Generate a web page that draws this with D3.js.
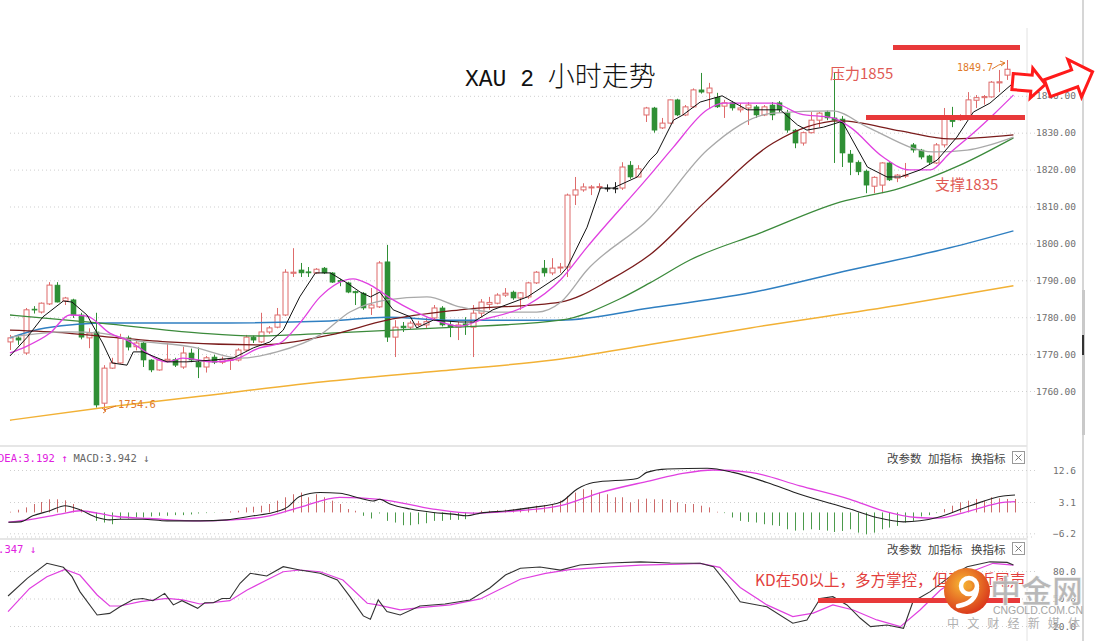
<!DOCTYPE html>
<html><head><meta charset="utf-8">
<script src="https://cdn.jsdelivr.net/npm/d3@7"></script>
<style>
html,body{margin:0;padding:0;background:#fff;overflow:hidden;}
svg{display:block;}
</style></head><body>
<svg id="c" width="1100" height="641"></svg>
<script>
// ---------- DATA ----------
const opens=[1773.3,1774.4,1770.3,1782.2,1781.4,1783.6,1788.7,1784.4,1784.7,1780.6,
1774.4,1776.0,1756.7,1766.2,1767.6,1774.4,1772.0,1773.0,1768.4,1765.7,
1768.2,1768.5,1766.5,1770.3,1767.8,1766.5,1769.2,1767.8,1768.3,1768.4,
1771.1,1774.6,1773.3,1776.0,1777.3,1780.6,1791.9,1792.8,1792.3,1792.0,
1793.3,1792.0,1790.0,1789.3,1787.0,1786.5,1782.5,1782.8,1795.0,1774.6,
1777.6,1777.3,1778.0,1777.9,1779.8,1782.5,1777.9,1777.3,1778.2,1777.3,
1781.1,1783.5,1783.8,1786.0,1786.8,1785.2,1785.5,1789.3,1793.3,1792.0,
1793.4,1793.6,1813.1,1814.5,1815.2,1815.3,1815.0,1815.0,1815.0,1821.2,
1818.0,1834.8,1836.7,1831.3,1832.6,1838.9,1834.8,1837.0,1841.6,1840.8,
1839.6,1837.2,1838.1,1836.2,1836.7,1837.0,1834.8,1837.5,1838.1,1835.3,
1830.7,1827.2,1830.0,1833.4,1835.6,1834.0,1833.7,1824.2,1822.0,1819.6,
1815.5,1815.8,1821.8,1817.7,1818.3,1826.7,1825.3,1823.7,1821.8,1826.7,
1834.0,1833.5,1834.3,1838.8,1839.5,1839.7,1843.5,1845.6];
const highs=[1775.2,1775.0,1782.5,1783.0,1784.0,1789.5,1789.5,1785.5,1785.0,1781.2,
1777.0,1781.2,1767.0,1769.0,1775.5,1775.0,1774.0,1773.5,1768.6,1768.6,
1773.0,1769.0,1772.0,1771.5,1771.8,1769.5,1769.8,1769.3,1769.0,1771.6,
1775.2,1775.0,1781.2,1777.6,1782.5,1793.0,1798.7,1794.7,1793.6,1793.3,
1793.6,1792.2,1790.4,1789.6,1787.2,1786.8,1787.9,1795.2,1799.6,1779.2,
1778.7,1779.0,1779.0,1779.8,1783.3,1783.0,1779.2,1778.7,1780.0,1783.3,
1784.9,1785.5,1786.5,1787.9,1787.2,1786.8,1789.6,1792.5,1795.5,1796.0,
1794.7,1813.5,1818.0,1816.3,1815.8,1816.3,1816.0,1816.6,1822.0,1822.3,
1821.2,1837.0,1837.0,1834.0,1839.0,1839.2,1837.5,1842.0,1846.2,1843.5,
1840.8,1838.9,1838.6,1838.0,1838.3,1837.5,1837.5,1838.3,1838.6,1836.2,
1831.0,1830.3,1835.6,1835.6,1836.0,1846.2,1834.5,1825.3,1822.5,1820.0,
1818.2,1822.0,1822.0,1818.8,1821.8,1827.2,1825.6,1824.0,1827.2,1836.7,
1837.0,1835.0,1841.0,1840.2,1840.2,1844.0,1847.0,1849.7];
const lows=[1771.1,1772.5,1769.8,1781.0,1781.0,1783.3,1784.0,1783.3,1779.8,1774.0,
1771.6,1755.5,1754.6,1766.0,1767.4,1771.0,1771.0,1766.5,1765.1,1765.5,
1767.8,1766.5,1766.0,1767.8,1763.5,1765.0,1767.3,1767.3,1765.7,1768.0,
1770.8,1773.0,1773.0,1775.5,1777.0,1780.3,1790.9,1790.9,1790.9,1791.7,
1791.7,1789.3,1788.4,1786.5,1783.3,1782.0,1780.6,1782.5,1773.3,1769.2,
1776.0,1776.8,1777.5,1777.1,1779.2,1777.5,1774.6,1773.8,1775.2,1769.2,
1780.0,1782.0,1783.5,1785.5,1784.7,1782.0,1785.0,1789.0,1791.0,1791.4,
1792.0,1790.9,1810.4,1814.0,1813.1,1814.5,1814.0,1813.6,1814.5,1817.5,
1818.0,1832.9,1830.0,1831.0,1832.3,1834.5,1834.5,1836.7,1840.6,1836.7,
1836.7,1834.0,1836.0,1835.5,1832.1,1834.0,1834.5,1833.4,1835.5,1830.0,
1825.8,1826.5,1829.8,1831.5,1833.4,1821.8,1820.7,1818.5,1818.5,1813.6,
1813.6,1813.6,1816.9,1816.6,1817.7,1824.6,1822.8,1821.5,1821.5,1826.0,
1831.5,1833.2,1834.0,1836.7,1837.6,1839.5,1841.0,1844.3];
const closes=[1774.4,1773.8,1782.0,1782.0,1783.8,1788.7,1784.1,1785.2,1780.6,1774.6,
1775.7,1756.2,1766.2,1767.6,1774.4,1771.9,1773.0,1768.4,1765.7,1768.4,
1768.6,1767.0,1770.3,1768.4,1766.5,1769.0,1767.8,1768.6,1768.6,1771.1,
1774.6,1773.8,1776.0,1777.1,1780.6,1792.2,1792.2,1792.0,1792.0,1793.0,
1792.0,1789.5,1789.6,1786.8,1786.6,1782.5,1783.3,1794.7,1774.6,1777.3,
1777.1,1778.4,1778.2,1778.8,1782.5,1777.9,1777.3,1777.9,1777.8,1781.1,
1784.1,1784.0,1786.0,1786.5,1785.2,1786.6,1789.3,1792.2,1792.0,1793.3,
1793.6,1813.1,1814.5,1815.3,1815.3,1815.4,1815.0,1815.0,1820.7,1818.0,
1820.2,1836.7,1830.7,1832.6,1838.9,1834.8,1837.0,1841.6,1841.0,1842.1,
1837.0,1838.1,1836.7,1836.7,1837.5,1834.8,1837.0,1834.8,1836.2,1830.7,
1827.2,1830.0,1833.4,1835.3,1834.0,1833.4,1824.5,1822.0,1819.4,1815.8,
1817.9,1821.8,1817.2,1818.5,1818.5,1825.3,1823.4,1822.0,1826.7,1834.0,
1833.0,1834.5,1838.9,1839.5,1839.8,1843.7,1843.8,1847.2];

// moving averages: [candle index, price]
const ma5=[[1,1769.5],[3.2,1774.6],[5.2,1780.1],[7.8,1784.4],[8.9,1784.1],[10.8,1780.6],[12.8,1773],[14,1767.6],[15.9,1767],[16.7,1770.6],[17.9,1770.6],[21,1767.9],[23.5,1767.9],[26.9,1768.4],[29.4,1768.9],[32,1771.7],[34.1,1773.3],[35.8,1776.5],[37.9,1785.5],[39.9,1792],[41.8,1792],[43.9,1789.3],[45.6,1786.8],[46.9,1785.5],[48.1,1786.8],[49.8,1782],[52,1780.1],[52.8,1777.1],[54.9,1779.2],[58.3,1778.7],[60,1778.7],[62.5,1782],[66.9,1785.5],[71.1,1791.4],[72,1793.6],[74.5,1804.4],[76.2,1815],[77.8,1815],[80.9,1818],[82.5,1822.6],[83.4,1824.5],[85.5,1833.4],[86.7,1834.8],[88.9,1838.3],[91.7,1840],[93.1,1838.3],[94.9,1836.2],[99.1,1836.2],[101.3,1832.1],[102.5,1830.7],[104.6,1831.5],[106.7,1832.9],[107.1,1832.6],[110.2,1820.7],[112.7,1818],[114.4,1818],[116.9,1819.9],[119.1,1822.6],[121.6,1828.8],[123.7,1835.6],[125.8,1838],[128.8,1843.5]];
const ma10=[[1,1770.3],[2.9,1771.9],[6.1,1775.7],[8.6,1780.6],[10.8,1780.3],[13.7,1775.7],[15.9,1773.8],[21,1767.9],[23,1768.9],[26.9,1767.9],[29.4,1768.4],[32.8,1771.7],[35.4,1773],[37.9,1778.4],[40.5,1785.5],[44.7,1790.4],[46.9,1788.7],[49.8,1784.7],[54.1,1780.1],[58.3,1777.6],[60.9,1779.2],[66.9,1783.3],[71.1,1790.1],[74.5,1799],[82.5,1818.5],[85.5,1826.1],[89.8,1836.2],[91.8,1838],[98.2,1838],[101.6,1835.1],[105.8,1834],[108,1831.5],[112.2,1823.4],[115.6,1819.9],[118.2,1819.9],[120.7,1824.5],[123.7,1829.9],[126.2,1834.8],[128.8,1840.2]];
const ma20=[[1,1774.6],[8.3,1776],[12.5,1775.7],[16.7,1773.8],[24.3,1771.9],[30.3,1768.9],[35,1770.6],[40.5,1775.2],[44.3,1781.4],[49,1784.7],[54.1,1785.5],[58.3,1782.8],[62.5,1781.4],[68.1,1781.4],[71.1,1784],[74.5,1792.8],[82.5,1806.9],[89.8,1825.3],[98.2,1835.3],[105.8,1835.9],[110.2,1831.5],[118.6,1824.8],[122.9,1825.3],[128.8,1828.8]];
const ma30=[[1,1776.5],[8.3,1775.7],[13.7,1774.6],[21,1773.3],[32.8,1772.5],[41.8,1775.2],[49,1779.2],[58.3,1782],[71.1,1784.1],[77.4,1790.1],[82.5,1796.9],[89.8,1811.8],[98.2,1827.2],[106.7,1833.2],[114.4,1830.5],[120.7,1828.3],[128.8,1829.4]];
const ma60=[[1,1780.6],[12.5,1778.4],[25.2,1775.7],[32.8,1774.9],[41.8,1775.7],[55.8,1777.1],[71.1,1779.2],[78.7,1785],[82.5,1789.3],[87.6,1795.5],[96.5,1802.8],[106.7,1811.2],[114.4,1815],[122,1821.2],[128.8,1828.6]];
const ma120=[[1,1774.4],[5.5,1777.1],[13.7,1778.4],[25.2,1778.4],[41.8,1779],[49,1780],[57.1,1779.2],[71.1,1779.2],[82.5,1782.5],[95.3,1786.6],[108,1792.8],[120.7,1798.8],[128.8,1803.4]];
const ma250=[[1,1752.1],[13.7,1755.7],[25.2,1758.6],[41.8,1762.7],[57.1,1765.7],[70.2,1768.4],[82.5,1772.6],[95.3,1777.1],[114.4,1783.3],[128.8,1788.5]];

const priceTicks=[1760,1770,1780,1790,1800,1810,1820,1830,1840];

// MACD
const macdHist=[0.2,0.8,1.5,2.5,3.1,3.9,3.9,3.6,2.5,1.0,
0.2,-2.5,-3.0,-3.5,-2.0,-1.8,-1.5,-1.5,-1.2,-1.0,
-1.0,-0.8,-0.8,-0.6,-0.3,-0.2,-0.1,0.1,0.3,0.5,
1.5,1.7,2.0,2.5,3.5,4.5,5.4,5.9,4.5,5.4,
4.5,3.5,2.5,1.0,0.5,-1.0,-1.8,-0.3,-2.5,-3.0,
-3.8,-3.8,-3.5,-3.2,-2.5,-2.5,-2.2,-2.2,-2.0,-0.5,
0.5,0.5,0.7,0.8,1.0,1.2,1.5,2.0,2.2,2.5,
3.5,4.9,5.9,6.9,6.7,5.9,5.4,4.5,4.5,3.0,
3.9,4.1,3.9,3.9,3.7,3.0,2.5,2.5,2.0,1.5,
0.2,-0.2,-1.5,-2.5,-2.8,-3.0,-3.5,-3.8,-4.0,-5.0,
-5.4,-5.3,-5.0,-5.2,-5.4,-5.8,-5.5,-5.0,-6.0,-6.5,
-6.0,-5.0,-4.5,-4.0,-3.0,-2.5,-1.2,-0.8,-0.2,1.0,
2.0,3.0,3.5,4.0,3.5,4.5,4.2,4.0,4.0];
const difLine=[[0.8,-2.9],[2.3,-2.8],[3.9,-1.0],[6.1,0.5],[8,2.0],[9.9,0.8],[12.1,-1.5],[13.7,-2.2],[15,-2.0],[17.9,-2.0],[21,-2.5],[25.2,-2.5],[28.6,-2.2],[32,-1.0],[34.5,0],[36.3,1.5],[37.9,4.7],[40.5,5.9],[43,5.7],[45.6,4.2],[47.2,3.4],[48.1,3.9],[49.4,2.5],[52,1.0],[54.9,0],[57.4,-0.5],[59.2,-1.0],[60.9,-0.2],[64.3,0.5],[67.6,1.5],[71.1,3.0],[73.2,6.9],[75.3,8.9],[80.9,10.1],[82.1,11.9],[84.7,12.9],[89.8,13.1],[93.1,11.9],[97.4,8.9],[101.6,5.4],[108,1.0],[111.4,-1.5],[114.8,-2.8],[119.1,-1.5],[123.3,2.0],[127.5,4.9],[129,5.2]];
const deaLine=[[0.8,-2.9],[3.9,-2.0],[7.4,-0.5],[9.9,0.5],[12.1,-0.2],[14.6,-1.2],[18.8,-1.8],[25.2,-2.5],[29.4,-2.2],[33.7,-1.2],[37.9,1.5],[43,4.5],[48.1,3.9],[54.9,1.0],[60,-0.2],[65.6,0.5],[71.1,2.0],[76.2,5.9],[82.5,9.4],[86.7,11.6],[90.6,12.6],[95.3,11.9],[101.6,7.9],[108,3.9],[112.2,0.5],[116.5,-1.5],[119.1,-1.7],[123.3,0.5],[127.5,3.0],[129,3.2]];
const macdTicks=[12.6,3.1,-6.2];

// KD
const kLine=[[0.75,52.7],[3.2,72],[5.7,88.4],[7.8,84],[8.9,73.8],[9.9,57.5],[12.1,32],[13.7,33.8],[15,41],[16.7,49],[17.9,50],[19.2,47.6],[20.7,55.6],[21.8,43],[22.9,47.6],[24.9,39.3],[25.8,45.4],[26.9,45.4],[28,50],[29,50],[30.3,66.6],[31.6,77.5],[33.7,74.5],[35.8,84.7],[37.9,81],[40.5,77.5],[42.7,70.2],[44.3,52],[46,31],[46.9,27.3],[47.9,48.5],[49,35.7],[50.7,32],[53.2,41.8],[56.4,44],[59.6,48.4],[62.1,61.5],[64.1,75.6],[66,83],[68.5,84.4],[71.1,81],[73.6,86.5],[77.4,88.7],[81.3,89.9],[85.1,88.7],[88.9,88.4],[90.6,84.7],[92.3,66.6],[94,46.5],[97.4,41],[100.7,23],[102.5,26.4],[104.2,50],[105.8,52],[107.6,43],[109.3,28.4],[110.6,19.3],[112.7,21.1],[114.8,17.5],[116,46.5],[118.2,57.5],[120.4,72],[122.9,84.7],[125.8,90],[128,89.4],[128.8,86.5]];
const dLine=[[0.75,35.6],[3.5,61],[5.7,73.8],[8,81.8],[9.9,75.6],[12.1,53.8],[13.7,41.8],[15,41.8],[17.6,46.5],[21,50.2],[23,48.4],[25.2,44],[29,47.6],[31.2,59.3],[33.7,70.2],[35.8,79.2],[37.9,81.1],[40.5,79.2],[43.4,70.2],[46.5,44.8],[47.8,43],[50.7,37.5],[53.2,40],[57.1,43],[60.9,49.5],[63.4,60],[66,71],[69.2,77.5],[72.3,81.5],[76.2,84],[81.3,86.5],[86.4,87.6],[88.9,88.4],[91.4,84],[94,62],[97.4,43],[100.7,30.2],[103.3,34],[105.8,43],[108.4,37.5],[111.4,26.6],[114.4,19.3],[116.9,37.5],[119.5,59.3],[122.9,77.5],[126.2,88.4],[128.8,86.5]];
const kdTicks=[80,50,20];

// ---------- DRAW ----------
const svg=d3.select("#c");
const x=d3.scaleLinear().domain([1,129]).range([10,1015]);
const yP=d3.scaleLinear().domain([1760,1840]).range([391,95.8]);
const yM=d3.scaleLinear().domain([3.1,12.6]).range([502,470]);
const yK=d3.scaleLinear().domain([50,80]).range([598.5,571]);
const mono="'DejaVu Sans Mono','Liberation Mono',monospace";
const cjk="'Noto Sans CJK SC','Noto Sans',sans-serif";

const defs=svg.append("defs");
defs.append("clipPath").attr("id","cpMain").append("rect").attr("x",7).attr("y",28).attr("width",1020).attr("height",417);
defs.append("clipPath").attr("id","cpMacd").append("rect").attr("x",0).attr("y",446).attr("width",1027).attr("height",92);
defs.append("clipPath").attr("id","cpKd").append("rect").attr("x",0).attr("y",539).attr("width",1027).attr("height",102);
const rg=defs.append("radialGradient").attr("id","logoG").attr("cx","40%").attr("cy","35%").attr("r","70%");
rg.append("stop").attr("offset","0%").attr("stop-color","#f7b733");
rg.append("stop").attr("offset","100%").attr("stop-color","#d8321a");

// frame lines
svg.append("line").attr("x1",1027).attr("x2",1027).attr("y1",28).attr("y2",641).attr("stroke","#e2e2e2");
svg.append("line").attr("x1",0).attr("x2",1027).attr("y1",446).attr("y2",446).attr("stroke","#e6e6e6").attr("stroke-width",2);
svg.append("line").attr("x1",0).attr("x2",1027).attr("y1",539).attr("y2",539).attr("stroke","#e6e6e6").attr("stroke-width",2);
svg.append("line").attr("x1",1083).attr("x2",1083).attr("y1",0).attr("y2",641).attr("stroke","#d6d6d6").attr("stroke-width",2);
svg.append("rect").attr("x",1082).attr("y",290).attr("width",3).attr("height",145).attr("fill","#c9c9c9");
svg.append("rect").attr("x",1082).attr("y",335).attr("width",2).attr("height",20).attr("fill","#333");

// grids + axes
function grid(scale,ticks){
  const g=svg.append("g").attr("transform","translate(1035,0)")
    .call(d3.axisLeft(scale).tickValues(ticks).tickSize(1028).tickFormat(""));
  g.select(".domain").remove();
  g.selectAll("line").attr("stroke","#cfcfcf").attr("stroke-dasharray","1,3");
}
function labels(scale,ticks,fmt){
  const g=svg.append("g").attr("transform","translate(1076,0)")
    .call(d3.axisLeft(scale).tickValues(ticks).tickSize(0).tickPadding(0).tickFormat(fmt));
  g.select(".domain").remove();
  g.selectAll("text").attr("font-family",mono).attr("font-size","9.5px").attr("fill","#707070");
}
grid(yP,priceTicks); grid(yM,macdTicks.concat([])); grid(yK,kdTicks);
svg.append("line").attr("x1",7).attr("x2",1035).attr("y1",537).attr("y2",537).attr("stroke","#cfcfcf").attr("stroke-dasharray","1,3");
labels(yP,priceTicks,d3.format(".2f"));
labels(yM,macdTicks,d3.format(".1f"));
labels(yK,kdTicks,d3.format(".1f"));

// candles
const candles=opens.map((o,i)=>({i:i+1,o,h:highs[i],l:lows[i],c:closes[i]}));
const main=svg.append("g").attr("clip-path","url(#cpMain)");
const col=d=>d.c>d.o?"#de6b6b":(d.c<d.o?"#2f8f35":"#222");
const cg=main.append("g").selectAll("g").data(candles).join("g");
cg.append("line").attr("x1",d=>Math.round(x(d.i))+0.5).attr("x2",d=>Math.round(x(d.i))+0.5)
  .attr("y1",d=>yP(d.h)).attr("y2",d=>yP(d.l)).attr("stroke",col).attr("stroke-width",1);
cg.append("rect").attr("x",d=>Math.round(x(d.i))-2)
  .attr("y",d=>yP(Math.max(d.o,d.c)))
  .attr("width",5)
  .attr("height",d=>Math.max(1,Math.abs(yP(d.o)-yP(d.c))))
  .attr("fill",d=>d.c>d.o?"#fff":col(d))
  .attr("stroke",col).attr("stroke-width",d=>d.c>d.o?1:0.6);

// MA lines
const lineP=d3.line().x(d=>x(d[0])).y(d=>yP(d[1])).curve(d3.curveMonotoneX);
const lineP5=d3.line().x(d=>x(d[0])).y(d=>yP(d[1]));
[[ma250,"#f2b135",1.5,lineP],[ma120,"#2f7fc1",1.5,lineP],[ma60,"#3b8a3b",1.3,lineP],[ma30,"#7a1c1c",1.3,lineP],
 [ma20,"#a9a9a9",1.3,lineP],[ma10,"#e040e0",1.3,lineP],[ma5,"#111",1,lineP5]].forEach(([d,c,w,gen])=>{
  main.append("path").attr("d",gen(d)).attr("fill","none").attr("stroke",c).attr("stroke-width",w);
});

// MACD
const mg=svg.append("g").attr("clip-path","url(#cpMacd)");
mg.selectAll("line.h").data(macdHist).join("line")
  .attr("x1",(d,i)=>Math.round(x(i+1))+0.5).attr("x2",(d,i)=>Math.round(x(i+1))+0.5)
  .attr("y1",yM(0)).attr("y2",d=>yM(d))
  .attr("stroke",d=>d>=0?"#cc6a6a":"#4b9a4b").attr("stroke-width",1);
const lineM=d3.line().x(d=>x(d[0])).y(d=>yM(d[1])).curve(d3.curveMonotoneX);
mg.append("path").attr("d",lineM(deaLine)).attr("fill","none").attr("stroke","#e040e0").attr("stroke-width",1.3);
mg.append("path").attr("d",lineM(difLine)).attr("fill","none").attr("stroke","#222").attr("stroke-width",1.1);

// KD
const kg=svg.append("g").attr("clip-path","url(#cpKd)");
const lineK=d3.line().x(d=>x(d[0])).y(d=>yK(d[1]));
kg.append("path").attr("d",lineK(dLine)).attr("fill","none").attr("stroke","#e040e0").attr("stroke-width",1.2);
kg.append("path").attr("d",lineK(kLine)).attr("fill","none").attr("stroke","#333").attr("stroke-width",1.1);

// panel headers
const hd1=svg.append("text").attr("x",-2).attr("y",462).attr("font-family",mono).attr("font-size","10.5px");
hd1.append("tspan").attr("fill","#e020e0").text("DEA:3.192 \u2191");
hd1.append("tspan").attr("fill","#666").attr("dx",6).text("MACD:3.942 \u2193");
svg.append("text").attr("x",36).attr("y",553).attr("text-anchor","end").attr("font-family",mono)
  .attr("font-size","10.5px").attr("fill","#e020e0").text("D:86.347 \u2193");
function tools(y){
  [["改参数",887],["加指标",928],["换指标",971]].forEach(([t,xx])=>{
    svg.append("text").attr("x",xx).attr("y",y).attr("font-family",cjk).attr("font-size","11.5px").attr("fill","#444").text(t);
  });
  svg.append("rect").attr("x",1012.5).attr("y",y-11.5).attr("width",12).attr("height",12).attr("fill","#fff").attr("stroke","#999");
  svg.append("path").attr("d",`M1015.5 ${y-8.5} L1021.5 ${y-2.5} M1021.5 ${y-8.5} L1015.5 ${y-2.5}`).attr("stroke","#777");
}
tools(463); tools(554);

// title
const tt=svg.append("text").attr("x",465).attr("y",86).attr("fill","#111");
tt.append("tspan").attr("font-family","'Liberation Mono','DejaVu Sans Mono',monospace").attr("font-size","23px").attr("xml:space","preserve").text("XAU 2 ");
tt.append("tspan").attr("font-family",cjk).attr("font-size","27px").attr("font-weight",300).text("小时走势");

// annotations
const red="#e8393a";
svg.append("rect").attr("x",893).attr("y",45).attr("width",127).attr("height",5).attr("fill",red);
svg.append("rect").attr("x",866).attr("y",115).attr("width",159).attr("height",5).attr("fill",red);
svg.append("text").attr("x",830).attr("y",79).attr("font-family",cjk).attr("font-size","15px").attr("fill","#e05a55").text("压力1855");
svg.append("text").attr("x",935).attr("y",190).attr("font-family",cjk).attr("font-size","15px").attr("fill","#e05a55").text("支撑1835");
svg.append("text").attr("x",957).attr("y",71).attr("font-family",mono).attr("font-size","10px").attr("fill","#e07a2a").text("1849.7");
svg.append("path").attr("d","M992 69 Q999 64 1005 63 M1000 61 L1005 63 L1001 66").attr("fill","none").attr("stroke","#e07a2a");
svg.append("text").attr("x",118).attr("y",408).attr("font-family",mono).attr("font-size","10.5px").attr("fill","#e07a2a").text("1754.6");
svg.append("path").attr("d","M104 410 L116 406 M102 408 L106 411 L103 413").attr("fill","none").attr("stroke","#e07a2a");

// hollow arrows
function arrow(cx,cy,L,Lh,h1,h2,rot){
  const p=[[-L/2,-h1],[L/2-Lh,-h1],[L/2-Lh,-h2],[L/2,0],[L/2-Lh,h2],[L/2-Lh,h1],[-L/2,h1]];
  svg.append("polygon").attr("points",p.map(d=>d.join(",")).join(" "))
    .attr("transform",`translate(${cx},${cy}) rotate(${rot})`)
    .attr("fill","#fff").attr("stroke","#ff1a1a").attr("stroke-width",3).attr("stroke-linejoin","miter");
}
arrow(1029,83,33,14,8,15,5);
arrow(1070,80,48,19,9,20,-20);

// KD comment
svg.append("text").attr("x",755).attr("y",586).attr("font-family",cjk).attr("font-size","15.5px").attr("fill","#e2403d").text("KD在50以上，多方掌控，但已接近尾声");
svg.append("rect").attr("x",818).attr("y",598).attr("width",202).attr("height",5).attr("fill",red);

// watermark
const wm=svg.append("g");
wm.append("circle").attr("cx",967).attr("cy",591).attr("r",23).attr("fill","url(#logoG)");
wm.append("circle").attr("cx",969).attr("cy",586).attr("r",8).attr("fill","none").attr("stroke","#fff").attr("stroke-width",4.5);
wm.append("path").attr("d","M977 588 Q976 603 958 606").attr("fill","none").attr("stroke","#fff").attr("stroke-width",4.5).attr("stroke-linecap","round");
wm.append("circle").attr("cx",969).attr("cy",586).attr("r",3).attr("fill","#f0a030");
wm.append("text").attr("x",990).attr("y",602).attr("font-family",cjk).attr("font-weight",700).attr("font-size","31px")
  .attr("fill","#b5b5b5").attr("stroke","#fff").attr("stroke-width",0.6).attr("opacity",0.95).text("中金网");
wm.append("text").attr("x",993).attr("y",614).attr("font-family","'Liberation Sans',Arial,sans-serif").attr("font-size","10.5px")
  .attr("fill","#a5a5a5").attr("textLength",90).text("CNGOLD.COM.CN");
wm.append("text").attr("x",947).attr("y",628).attr("font-family",cjk).attr("font-size","12px")
  .attr("fill","#b0b0b0").attr("textLength",133).text("中文财经新媒体");
</script>
</body></html>
